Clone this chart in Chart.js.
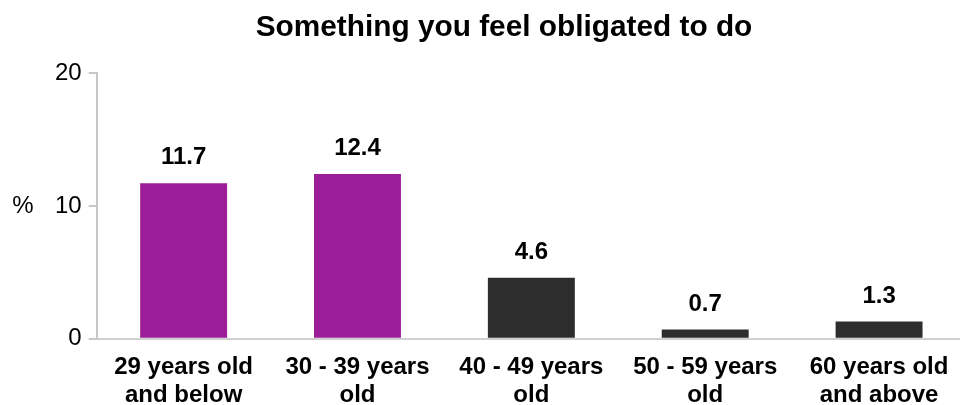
<!DOCTYPE html>
<html>
<head>
<meta charset="utf-8">
<script src="https://cdn.jsdelivr.net/npm/chart.js@4"></script>
<style>
  html, body { margin: 0; padding: 0; background: #fff; overflow: hidden; }
  #wrap { width: 966px; height: 405px; }
</style>
</head>
<body>
<div id="wrap"><canvas id="myChart"></canvas></div>
<script>
const ageGroups = [
    ['29 years old', 'and below'],
    ['30 - 39 years', 'old'],
    ['40 - 49 years', 'old'],
    ['50 - 59 years', 'old'],
    ['60 years old', 'and above']
];
const percentValues = [11.7, 12.4, 4.6, 0.7, 1.3];
const yTicks = [0, 10, 20];
const chartTitle = 'Something you feel obligated to do';

const purple = '#9B1D97';
const dark = '#2D2D2D';
const barColors = percentValues.map((v, i) => i < 2 ? purple : dark);
const fontFam = '"Liberation Sans", Arial, sans-serif';

// title, bold value on top of each bar and the "%" axis label
const labelPlugin = {
    id: 'valueLabels',
    afterDatasetsDraw(chart) {
        const ctx = chart.ctx;
        const meta = chart.getDatasetMeta(0);
        ctx.save();
        ctx.fillStyle = '#000';
        ctx.textAlign = 'center';

        ctx.font = 'bold 29.8px ' + fontFam;
        ctx.textBaseline = 'middle';
        ctx.fillText(chartTitle, 504, 28);

        ctx.font = 'bold 24px ' + fontFam;
        ctx.textBaseline = 'alphabetic';
        meta.data.forEach((bar, i) => {
            ctx.fillText(percentValues[i].toFixed(1), bar.x, bar.y - 19);
        });

        ctx.font = '24px ' + fontFam;
        ctx.textBaseline = 'middle';
        const yScale = chart.scales.y;
        ctx.fillText('%', 23, yScale.getPixelForValue(10));
        ctx.restore();
    }
};

new Chart(document.getElementById('myChart'), {
    type: 'bar',
    data: {
        labels: ageGroups,
        datasets: [{
            data: percentValues,
            backgroundColor: barColors,
            barPercentage: 0.5,
            categoryPercentage: 1.0
        }]
    },
    plugins: [labelPlugin],
    options: {
        responsive: true,
        maintainAspectRatio: false,
        animation: false,
        layout: { padding: { left: 48, right: 0, top: 73, bottom: -10 } },
        plugins: {
            legend: { display: false },
            tooltip: { enabled: false },
            title: { display: false }
        },
        scales: {
            x: {
                grid: { display: false },
                border: { display: true, color: '#D0D0D0', width: 2 },
                ticks: {
                    color: '#000',
                    font: { family: fontFam, size: 24, weight: 'bold', lineHeight: 1.17 },
                    padding: 6,
                    maxRotation: 0,
                    autoSkip: false
                }
            },
            y: {
                min: 0,
                max: 20,
                afterBuildTicks(axis) {
                    axis.ticks = yTicks.map(v => ({ value: v }));
                },
                grid: { drawOnChartArea: false, drawTicks: true, tickLength: 8, color: '#C8C8C8', lineWidth: 2 },
                border: { display: true, color: '#C8C8C8', width: 2 },
                ticks: {
                    color: '#000',
                    font: { family: fontFam, size: 24 },
                    padding: 7
                }
            }
        }
    }
});
</script>
</body>
</html>
